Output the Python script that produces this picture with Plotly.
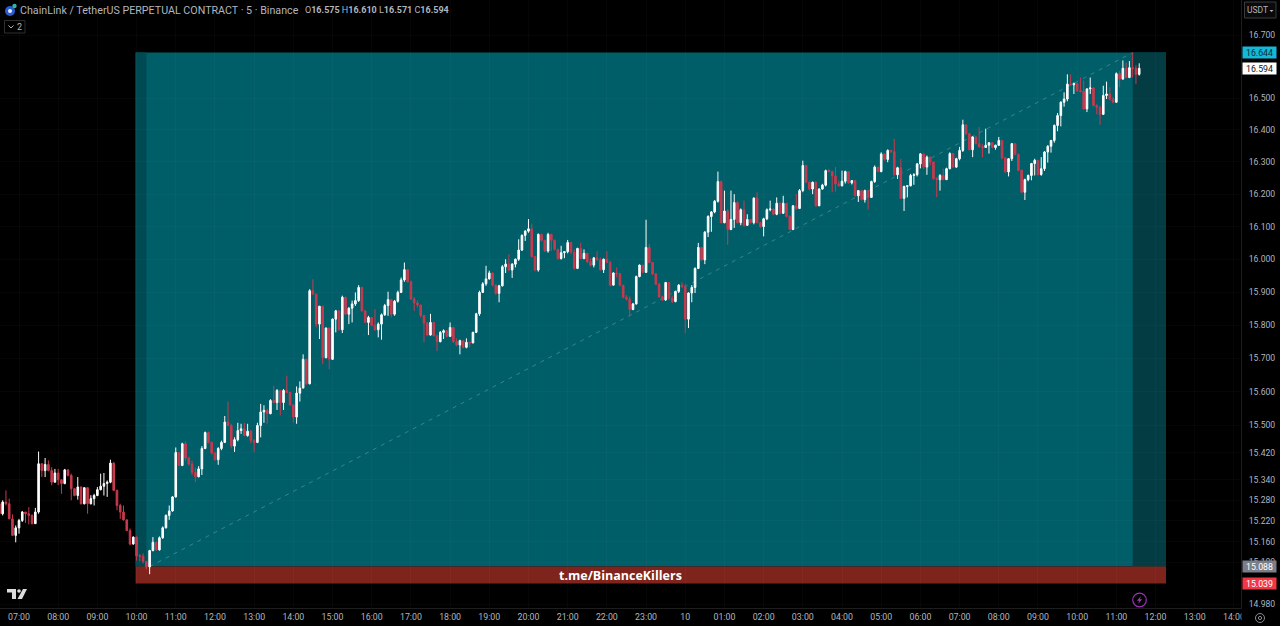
import math
import pandas as pd
import plotly.graph_objects as go

SYMBOL = "ChainLink / TetherUS PERPETUAL CONTRACT · 5 · Binance"
BRAND = "t.me/BinanceKillers"
FIRST_BAR = "2024-01-09 06:30"
FIRST_OPEN = 15.27

closes = [
    15.241,15.275,15.270,15.226,15.178,15.200,
    15.221,15.246,15.241,15.236,15.212,15.246,15.387,15.367,15.385,15.367,15.333,15.360,
    15.340,15.329,15.369,15.353,15.314,15.294,15.319,15.270,15.317,15.270,15.285,15.294,
    15.311,15.321,15.329,15.333,15.389,15.309,15.265,15.246,15.223,15.192,15.153,15.173,
    15.119,15.118,15.103,15.087,15.134,15.158,15.136,15.171,15.200,15.236,15.249,15.290,
    15.420,15.382,15.446,15.404,15.386,15.362,15.349,15.372,15.432,15.479,15.450,15.419,
    15.399,15.432,15.450,15.510,15.500,15.439,15.458,15.485,15.490,15.470,15.483,15.455,
    15.450,15.500,15.540,15.545,15.535,15.574,15.568,15.604,15.568,15.604,15.598,15.561,
    15.525,15.596,15.611,15.697,15.624,15.904,15.894,15.803,15.857,15.702,15.791,15.697,
    15.818,15.843,15.786,15.884,15.833,15.851,15.864,15.874,15.914,15.843,15.808,15.823,
    15.800,15.786,15.803,15.831,15.859,15.877,15.833,15.872,15.899,15.937,15.968,15.931,
    15.879,15.867,15.861,15.829,15.806,15.770,15.808,15.768,15.750,15.778,15.783,15.766,
    15.793,15.750,15.740,15.753,15.733,15.748,15.746,15.778,15.834,15.899,15.925,15.940,
    15.958,15.921,15.896,15.919,15.977,15.985,15.967,15.985,16.000,16.028,16.073,16.086,
    16.093,16.008,15.967,16.076,16.058,16.025,16.076,16.058,16.030,16.002,16.020,16.023,
    16.051,16.022,15.972,16.033,16.002,16.018,15.992,15.982,16.004,15.998,15.968,16.000,
    15.990,15.921,15.958,15.956,15.921,15.884,15.879,15.847,15.864,15.947,15.982,15.960,
    16.036,15.990,15.955,15.924,15.886,15.876,15.929,15.881,15.871,15.902,15.921,15.916,
    15.818,15.897,15.914,15.972,16.036,15.998,16.083,16.131,16.145,16.178,16.239,16.112,
    16.148,16.091,16.122,16.174,16.112,16.152,16.104,16.122,16.112,16.188,16.112,16.100,
    16.124,16.152,16.154,16.138,16.172,16.141,16.172,16.131,16.091,16.164,16.156,16.211,
    16.289,16.237,16.216,16.237,16.164,16.216,16.228,16.273,16.270,16.256,16.232,16.226,
    16.240,16.270,16.235,16.242,16.195,16.211,16.183,16.211,16.190,16.239,16.284,16.270,
    16.325,16.308,16.336,16.332,16.260,16.282,16.187,16.224,16.226,16.258,16.260,16.294,
    16.325,16.284,16.315,16.300,16.248,16.245,16.258,16.245,16.279,16.326,16.284,16.310,
    16.336,16.416,16.388,16.338,16.378,16.357,16.347,16.345,16.352,16.360,16.345,16.352,
    16.367,16.312,16.269,16.310,16.357,16.324,16.274,16.206,16.245,16.258,16.295,16.305,
    16.261,16.279,16.331,16.349,16.367,16.414,16.445,16.487,16.497,16.544,16.542,16.546,
    16.523,16.521,16.466,16.529,16.532,16.477,16.471,16.449,16.508,16.513,16.497,16.487,
    16.577,16.560,16.594,16.565,16.596,16.594,16.575,16.594,
]
highs = [
    15.300,15.280,15.309,15.285,15.239,15.207,
    15.226,15.249,15.246,15.260,15.239,15.258,15.423,15.389,15.404,15.397,15.377,15.372,
    15.372,15.342,15.372,15.371,15.358,15.316,15.348,15.320,15.317,15.314,15.295,15.299,
    15.319,15.358,15.360,15.338,15.399,15.392,15.311,15.270,15.265,15.225,15.198,15.175,
    15.175,15.124,15.126,15.103,15.136,15.173,15.158,15.175,15.204,15.239,15.265,15.292,
    15.435,15.420,15.449,15.453,15.408,15.396,15.376,15.380,15.439,15.482,15.482,15.452,
    15.421,15.436,15.455,15.528,15.571,15.505,15.465,15.508,15.505,15.508,15.505,15.487,
    15.460,15.508,15.564,15.560,15.550,15.578,15.618,15.608,15.606,15.608,15.648,15.600,
    15.563,15.616,15.631,15.712,15.699,15.909,15.939,15.894,15.858,15.838,15.793,15.793,
    15.820,15.846,15.845,15.889,15.886,15.854,15.874,15.899,15.921,15.916,15.845,15.828,
    15.820,15.848,15.808,15.835,15.864,15.901,15.879,15.876,15.904,15.944,15.990,15.970,
    15.935,15.885,15.874,15.861,15.831,15.810,15.834,15.810,15.771,15.782,15.787,15.785,
    15.808,15.795,15.760,15.756,15.753,15.760,15.750,15.780,15.837,15.904,15.930,15.980,
    15.965,15.960,15.922,15.922,15.982,16.000,16.015,15.988,16.002,16.061,16.076,16.089,
    16.123,16.109,16.010,16.079,16.078,16.059,16.081,16.078,16.060,16.032,16.041,16.025,
    16.059,16.051,16.030,16.035,16.051,16.030,16.018,16.002,16.007,16.025,16.005,16.002,
    16.025,15.995,15.960,15.975,15.956,15.921,15.891,15.887,15.867,15.950,15.984,15.982,
    16.121,16.046,15.990,15.958,15.928,15.889,15.931,15.927,15.889,15.904,15.924,15.930,
    15.925,15.899,15.921,15.975,16.050,16.037,16.086,16.135,16.148,16.182,16.270,16.242,
    16.211,16.154,16.211,16.200,16.177,16.156,16.180,16.138,16.124,16.190,16.206,16.114,
    16.127,16.156,16.180,16.156,16.190,16.175,16.195,16.172,16.135,16.166,16.200,16.216,
    16.304,16.291,16.239,16.239,16.239,16.218,16.232,16.276,16.278,16.273,16.284,16.242,
    16.273,16.273,16.270,16.244,16.240,16.213,16.208,16.214,16.211,16.242,16.289,16.284,
    16.330,16.322,16.339,16.338,16.372,16.285,16.310,16.226,16.228,16.263,16.265,16.297,
    16.328,16.325,16.320,16.307,16.300,16.253,16.262,16.279,16.282,16.330,16.328,16.313,
    16.347,16.432,16.416,16.392,16.380,16.380,16.409,16.355,16.404,16.362,16.360,16.354,
    16.378,16.369,16.316,16.312,16.359,16.357,16.326,16.276,16.248,16.261,16.297,16.310,
    16.305,16.315,16.334,16.352,16.369,16.417,16.453,16.490,16.518,16.575,16.575,16.549,
    16.548,16.565,16.555,16.531,16.565,16.534,16.480,16.476,16.539,16.552,16.534,16.503,
    16.581,16.586,16.619,16.612,16.617,16.644,16.604,16.610,
]
lows = [
    15.230,15.236,15.265,15.226,15.178,15.158,
    15.183,15.217,15.214,15.210,15.210,15.212,15.241,15.348,15.348,15.365,15.324,15.333,
    15.324,15.299,15.327,15.350,15.280,15.292,15.282,15.268,15.268,15.241,15.268,15.265,
    15.292,15.309,15.294,15.290,15.330,15.307,15.251,15.226,15.221,15.190,15.149,15.151,
    15.105,15.103,15.097,15.080,15.066,15.132,15.134,15.134,15.168,15.198,15.223,15.247,
    15.288,15.380,15.380,15.396,15.382,15.354,15.333,15.347,15.354,15.430,15.447,15.414,
    15.396,15.384,15.427,15.448,15.498,15.432,15.422,15.453,15.475,15.468,15.467,15.447,
    15.422,15.448,15.465,15.508,15.505,15.533,15.566,15.546,15.530,15.546,15.596,15.559,
    15.508,15.505,15.571,15.611,15.621,15.622,15.892,15.793,15.758,15.682,15.700,15.667,
    15.695,15.778,15.783,15.776,15.830,15.803,15.808,15.858,15.870,15.841,15.806,15.770,
    15.796,15.783,15.763,15.756,15.828,15.828,15.823,15.828,15.868,15.897,15.931,15.929,
    15.877,15.843,15.854,15.823,15.748,15.768,15.768,15.766,15.722,15.748,15.758,15.763,
    15.764,15.746,15.736,15.712,15.730,15.730,15.733,15.746,15.776,15.828,15.897,15.919,
    15.938,15.917,15.892,15.869,15.917,15.958,15.963,15.943,15.975,15.995,16.025,16.056,
    16.081,16.005,15.963,15.962,16.054,16.022,16.020,16.025,16.027,15.998,15.999,16.003,
    16.018,16.015,15.968,15.970,16.000,16.000,15.988,15.978,15.975,15.996,15.965,15.958,
    15.988,15.917,15.921,15.945,15.917,15.881,15.874,15.826,15.845,15.862,15.945,15.958,
    15.958,15.988,15.952,15.921,15.882,15.873,15.873,15.877,15.867,15.869,15.897,15.913,
    15.776,15.791,15.869,15.897,15.970,15.995,15.985,16.068,16.084,16.141,16.174,16.110,
    16.110,16.044,16.089,16.096,16.110,16.104,16.100,16.102,16.110,16.107,16.110,16.096,
    16.070,16.120,16.147,16.135,16.135,16.138,16.139,16.128,16.089,16.089,16.152,16.154,
    16.206,16.235,16.211,16.200,16.161,16.169,16.214,16.224,16.268,16.206,16.208,16.223,
    16.224,16.233,16.232,16.230,16.193,16.176,16.181,16.174,16.152,16.190,16.235,16.268,
    16.268,16.304,16.299,16.328,16.258,16.247,16.185,16.148,16.190,16.224,16.229,16.255,
    16.280,16.278,16.260,16.289,16.245,16.191,16.211,16.243,16.247,16.277,16.282,16.281,
    16.305,16.331,16.385,16.336,16.315,16.355,16.345,16.315,16.345,16.326,16.342,16.338,
    16.350,16.309,16.266,16.255,16.303,16.321,16.271,16.203,16.182,16.240,16.243,16.258,
    16.258,16.257,16.272,16.298,16.329,16.360,16.396,16.411,16.473,16.490,16.540,16.513,
    16.520,16.518,16.463,16.456,16.513,16.474,16.449,16.416,16.447,16.497,16.492,16.484,
    16.485,16.534,16.558,16.563,16.563,16.565,16.544,16.571,
]
opens = [FIRST_OPEN] + closes[:-1]

price_ticks = [16.7, 16.5, 16.4, 16.3, 16.2, 16.1, 16.0, 15.9, 15.8, 15.7, 15.6, 15.5,
               15.42, 15.34, 15.28, 15.22, 15.16, 15.1, 14.98]
time_ticks = pd.date_range("2024-01-09 07:00", "2024-01-10 14:00", freq="h")
time_labels = ["10" if t.hour == 0 else t.strftime("%H:%M") for t in time_ticks]

target_price = 16.644
last_price = 16.594
entry_price = 15.088
stop_price = 15.039
box_start = "2024-01-09 09:58:30"
stripe_end = "2024-01-09 10:15"
line_start = "2024-01-09 10:20"
line_end = "2024-01-10 11:25"
box_end = "2024-01-10 12:16"

W, H = 1280, 626
PW, PH = 1241.5, 608
times = pd.date_range(FIRST_BAR, periods=len(closes), freq="5min")
TEXT = "#b2b5be"
GRID = "rgba(255,255,255,0.022)"
FONT = "Roboto"


def px(x):
    return x / PW


def py(y):
    return 1 - y / PH


def rect(x0, y0, x1, y1, fill, line=None):
    return dict(type="rect", xref="paper", yref="paper", x0=px(x0), x1=px(x1), y0=py(y0), y1=py(y1),
                fillcolor=fill, line=dict(color=line or "rgba(0,0,0,0)", width=1), layer="above")


def circle(cx, cy, r, fill, line=None, width=1):
    return dict(type="circle", xref="paper", yref="paper", x0=px(cx - r), x1=px(cx + r), y0=py(cy - r), y1=py(cy + r),
                fillcolor=fill, line=dict(color=line or "rgba(0,0,0,0)", width=width), layer="above")


def poly(points, fill="rgba(0,0,0,0)", line=None, width=1, close=True):
    d = "M" + " L".join(f"{px(a):.5f},{py(b):.5f}" for a, b in points) + (" Z" if close else "")
    return dict(type="path", xref="paper", yref="paper", path=d, fillcolor=fill,
                line=dict(color=line or "rgba(0,0,0,0)", width=width), layer="above")


def text(x, y, s, color=TEXT, size=10, anchor="left", family=FONT):
    return dict(xref="paper", yref="paper", x=px(x), y=py(y), text=s, showarrow=False, xanchor=anchor,
                yanchor="middle", font=dict(color=color, size=size, family=family), align=anchor)


def tag(price, bg, fg):
    return dict(xref="paper", yref="y", x=px(1243), y=math.log10(price), text=f"{price:.3f}", showarrow=False,
                xanchor="left", yanchor="middle", width=33, height=11, bgcolor=bg, borderpad=0,
                font=dict(color=fg, size=8.8, family=FONT), align="center")


fig = go.Figure(go.Candlestick(
    x=times, open=opens, high=highs, low=lows, close=closes, whiskerwidth=0, hoverinfo="skip",
    increasing=dict(line=dict(color="#ffffff", width=1), fillcolor="#ffffff"),
    decreasing=dict(line=dict(color="#c93a4e", width=1), fillcolor="#c93a4e"),
))

shapes = [
    dict(type="rect", xref="x", yref="y", x0=box_start, x1=box_end, y0=entry_price, y1=target_price,
         fillcolor="#005e69", line_width=0, layer="below"),
    dict(type="rect", xref="x", yref="y", x0=box_start, x1=stripe_end, y0=entry_price, y1=target_price,
         fillcolor="#004a53", line_width=0, layer="below"),
    dict(type="rect", xref="x", yref="y", x0=line_end, x1=box_end, y0=entry_price, y1=target_price,
         fillcolor="#033c42", line_width=0, layer="below"),
    dict(type="rect", xref="x", yref="y", x0=box_start, x1=box_end, y0=stop_price, y1=entry_price,
         fillcolor="#7e241d", line_width=0, layer="below"),
    dict(type="line", xref="x", yref="y", x0=line_start, x1=line_end, y0=entry_price, y1=target_price,
         line=dict(color="rgba(190,205,205,0.32)", width=1, dash="4px,5px"), layer="below"),
    rect(1242, 608.5, 1280, 626, "#000000"),
    # header icon
    circle(10, 11, 5, "#2a5bd0"), circle(10, 11, 2, "#e8eef8"), circle(14.5, 6, 2.2, "#2fb6a8"),
    # collapse button
    rect(4.5, 20.5, 25, 33, "rgba(0,0,0,0)", "#2e2e2e"),
    poly([(8.5, 25.5), (11, 28), (13.5, 25.5)], line=TEXT, close=False),
    # currency button
    rect(1245, 2, 1276.5, 18, "#0a0a0a", "#3a3c42"),
    poly([(1270, 10), (1274, 10), (1272, 12)], fill=TEXT),
    # watermark logo
    poly([(7, 589), (16, 589), (16, 599), (12, 599), (12, 592.5), (7, 592.5)], fill="#dcdcdc"),
    circle(19, 591, 1.8, "#dcdcdc"),
    poly([(23, 589), (27, 589), (22, 599), (17.5, 599)], fill="#dcdcdc"),
    # bolt button
    circle(1140, 600, 6.8, "rgba(0,0,0,0)", "#9c33b5", 1.2),
    poly([(1141.5, 596), (1137.5, 600.8), (1139.8, 600.8), (1138.6, 604), (1142.5, 599.2), (1140.2, 599.2)], fill="#a63cc0"),
    # settings button
    circle(1260.5, 618, 4.5, "rgba(0,0,0,0)", "#8a8d96"), circle(1260.5, 618, 1.6, "rgba(0,0,0,0)", "#8a8d96"),
]

annotations = [
    text(18, 10, SYMBOL, size=10.7),
    text(303, 10, "O<b>16.575</b> H<b>16.610</b> L<b>16.571</b> C<b>16.594</b>", size=9),
    text(15, 27, "2", size=9),
    text(1246, 10, "USDT", size=8.5),
    dict(xref="paper", yref="paper", x=px(620.5), y=py(575), text=f"<b>{BRAND}</b>", showarrow=False,
         xanchor="center", yanchor="middle", font=dict(color="#ffffff", size=12.5, family="Open Sans")),
    tag(target_price, "#14b8d8", "#0b2a30"),
    tag(last_price, "#ffffff", "#111111"),
    tag(entry_price, "#7b7e88", "#ffffff"),
    tag(stop_price, "#f23645", "#ffffff"),
]

fig.update_layout(
    width=W, height=H, margin=dict(l=0, r=W - PW, t=0, b=H - PH),
    paper_bgcolor="#000000", plot_bgcolor="#000000", showlegend=False,
    shapes=shapes, annotations=annotations,
    xaxis=dict(type="date", range=["2024-01-09 06:30:55", "2024-01-10 14:10:50"], rangeslider=dict(visible=False),
               tickvals=list(time_ticks), ticktext=time_labels, showgrid=True, gridcolor=GRID, gridwidth=1,
               showline=True, linecolor="#1e1e1e", ticks="", zeroline=False,
               tickfont=dict(color=TEXT, size=8.8, family=FONT), tickangle=0),
    yaxis=dict(type="log", side="right", range=[math.log10(14.969), math.log10(16.812)],
               tickvals=price_ticks, ticktext=[f"{v:.3f}" for v in price_ticks], showgrid=True, gridcolor=GRID,
               gridwidth=1, showline=True, linecolor="#1e1e1e", ticks="", zeroline=False,
               tickfont=dict(color=TEXT, size=8.6, family=FONT), ticklabelstandoff=5),
)

fig.write_html("out.html", config={"displayModeBar": False},
               post_script="document.body.style.margin='0';document.body.style.background='#000';")
